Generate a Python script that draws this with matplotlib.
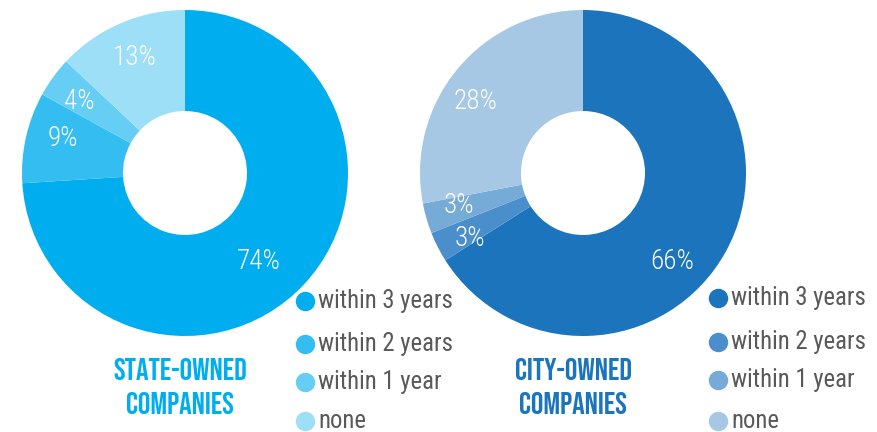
import numpy as np
import matplotlib
matplotlib.use("Agg")
import matplotlib.pyplot as plt

# ---------------- data ----------------
categories = ["within 3 years", "within 2 years", "within 1 year", "none"]
state_values = [74, 9, 4, 13]
city_values = [66, 3, 3, 28]
state_title = "STATE-OWNED\nCOMPANIES"
city_title = "CITY-OWNED\nCOMPANIES"

# ---------------- style ----------------
state_colors = ["#00aeef", "#33bdf1", "#66cdf4", "#9edff8"]
city_colors = ["#1c75bc", "#4a8fcb", "#76abd7", "#a6c8e5"]
FONT = ["Roboto Condensed", "Archivo Narrow", "DejaVu Sans"]
TITLE_FONT = ["Bebas Neue", "Oswald", "DejaVu Sans"]

W, H = 877, 432
R_OUT, R_IN = 163, 62


def donut(ax, values, colors, cx, cy, lab_pos):
    cy = H - cy
    wedges, _ = ax.pie(values, colors=colors, startangle=90, counterclock=False,
                       center=(cx, cy), radius=R_OUT,
                       wedgeprops=dict(width=R_OUT - R_IN, linewidth=0))
    for w, v, (da, rf) in zip(wedges, values, lab_pos):
        mid = np.deg2rad(0.5 * (w.theta1 + w.theta2) + da)
        x = cx + rf * R_OUT * np.cos(mid)
        y = cy + rf * R_OUT * np.sin(mid)
        ax.text(x, y, f"{v}%", color="white", fontsize=19.5, family=FONT,
                fontweight="light", ha="center", va="center")


def legend(ax, colors, x, rows):
    for c, lab, y in zip(colors, categories, rows):
        ax.plot(x, H - y, "o", ms=14, color=c, mec="none")
        ax.text(x + 13, H - y, lab, color="#595959", fontsize=17.8, family=FONT,
                ha="left", va="center")


fig = plt.figure(figsize=(W / 100, H / 100), dpi=100)
ax = fig.add_axes([0, 0, 1, 1])

donut(ax, state_values, state_colors, 185, 173,
      [(-7, 0.71), (-3, 0.78), (2, 0.78), (0, 0.77)])
# small 3% slices: nudge the two labels apart so they don't collide
donut(ax, city_values, city_colors, 583, 173,
      [(-16, 0.77), (3, 0.80), (-1.5, 0.79), (6, 0.79)])

legend(ax, state_colors, 305, [301, 344, 382, 421])
legend(ax, city_colors, 718, [298, 342, 380, 421])

ax.text(180, H - 386, state_title, color=state_colors[0], fontsize=22.5,
        family=TITLE_FONT, ha="center", va="center", linespacing=1.5)
ax.text(573, H - 386, city_title, color=city_colors[0], fontsize=22.5,
        family=TITLE_FONT, ha="center", va="center", linespacing=1.5)

ax.set_xlim(0, W)
ax.set_ylim(0, H)
ax.set_aspect("equal")
ax.axis("off")

fig.savefig("out.png", dpi=100)
